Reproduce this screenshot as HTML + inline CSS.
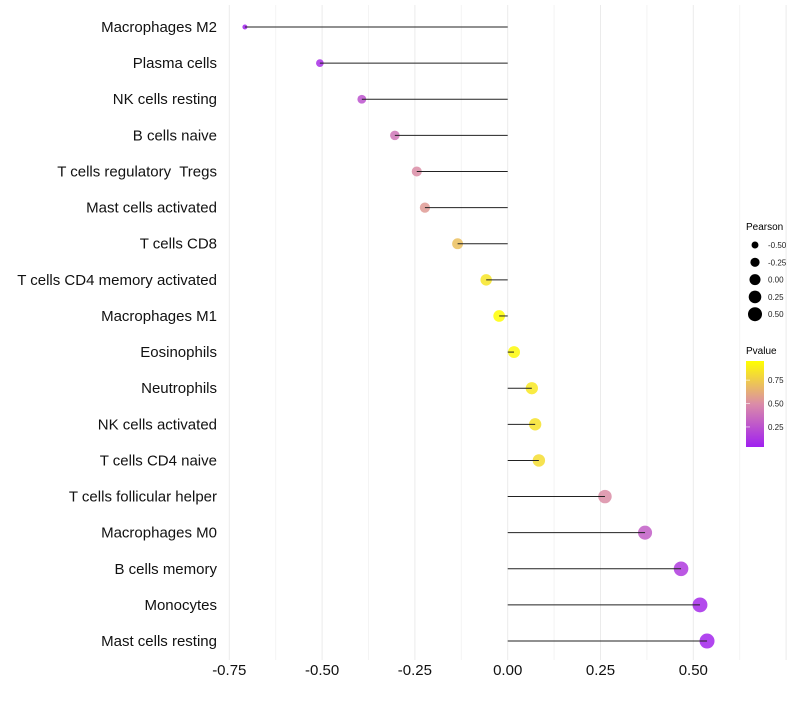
<!DOCTYPE html>
<html><head><meta charset="utf-8"><style>
body{margin:0;background:#fff;font-family:"Liberation Sans",sans-serif}
svg text{font-family:"Liberation Sans",sans-serif;white-space:pre}
</style></head><body>
<svg id="chart" width="800" height="700" xmlns="http://www.w3.org/2000/svg">
<g id="grid"></g>
<g id="dots"></g>
<g id="stems"></g>
<g id="ylabels"></g>
<g id="xlabels"></g>
<g>
<text x="746" y="230" font-size="10">Pearson</text>
<g id="sizeleg"></g>
</g>
<g>
<defs><linearGradient id="pg" x1="0" y1="1" x2="0" y2="0">
<stop offset="0" stop-color="#A020F0"/><stop offset="0.5" stop-color="#DB8CA8"/><stop offset="1" stop-color="#FFFF00"/></linearGradient></defs>
<text x="746" y="354" font-size="10">Pvalue</text>
<rect x="746" y="361" width="18" height="86" fill="url(#pg)"/>
<g id="colleg"></g>
</g>
</svg>
<script>
const categories=["Macrophages M2","Plasma cells","NK cells resting","B cells naive","T cells regulatory  Tregs","Mast cells activated","T cells CD8","T cells CD4 memory activated","Macrophages M1","Eosinophils","Neutrophils","NK cells activated","T cells CD4 naive","T cells follicular helper","Macrophages M0","B cells memory","Monocytes","Mast cells resting"];
const pearson=[-0.708,-0.506,-0.393,-0.304,-0.245,-0.223,-0.135,-0.058,-0.023,0.017,0.065,0.074,0.084,0.262,0.37,0.467,0.518,0.537];
const pvalues=[0.04,0.1,0.25,0.4,0.5,0.55,0.7,0.85,0.95,0.93,0.86,0.84,0.82,0.5,0.3,0.15,0.08,0.06];
const xTicks=[-0.75,-0.5,-0.25,0,0.25,0.5];
const xTickLabels=["-0.75","-0.50","-0.25","0.00","0.25","0.50"];
const sizeLegend=[-0.5,-0.25,0,0.25,0.5];
const sizeLegendLabels=["-0.50","-0.25","0.00","0.25","0.50"];
const colLegend=[0.25,0.5,0.75];
const colLegendLabels=["0.25","0.50","0.75"];
const NS="http://www.w3.org/2000/svg";
const x=v=>507.7+v*371.2;
const y=i=>27+i*36.12;
const r=v=>Math.sqrt(Math.max(1.5,30.5+37*v))+0.4;
const pMin=0.036,pMax=0.954;
function hex(c){return[parseInt(c.slice(1,3),16),parseInt(c.slice(3,5),16),parseInt(c.slice(5,7),16)]}
const stops=[hex("#A020F0"),hex("#DB8CA8"),hex("#FFFF00")];
function col(p){let t=Math.min(1,Math.max(0,(p-pMin)/(pMax-pMin)));let a,b,u;if(t<0.5){a=stops[0];b=stops[1];u=t/0.5}else{a=stops[1];b=stops[2];u=(t-0.5)/0.5}
return "rgb("+a.map((v,k)=>Math.round(v+(b[k]-v)*u)).join(",")+")"}
function mk(tag,at,parent){const e=document.createElementNS(NS,tag);for(const k in at)e.setAttribute(k,at[k]);parent.appendChild(e);return e}
const grid=document.getElementById("grid");
for(let v=-0.75;v<=0.76;v+=0.125){const gl=mk("line",{x1:x(v),x2:x(v),y1:5,y2:660,stroke:Math.abs(v/0.25-Math.round(v/0.25))<0.01?"#ebebeb":"#f4f4f4","stroke-width":1},grid);

}
const stems=document.getElementById("stems"),dots=document.getElementById("dots"),yl=document.getElementById("ylabels"),xl=document.getElementById("xlabels");
categories.forEach((c,i)=>{
const s=mk("line",{x1:x(0),x2:x(pearson[i]),y1:y(i),y2:y(i),stroke:"#222","stroke-width":1},stems);


const d=mk("circle",{cx:x(pearson[i]),cy:y(i),r:r(pearson[i]),fill:col(pvalues[i]),"fill-opacity":0.85},dots);


const t=mk("text",{x:217,y:y(i)+5,"font-size":15,"text-anchor":"end",fill:"#111"},yl);t.textContent=c;


});
xTicks.forEach((v,i)=>{const t=mk("text",{x:x(v),y:675,"font-size":15,"text-anchor":"middle",fill:"#111"},xl);t.textContent=xTickLabels[i];

});
const sl=document.getElementById("sizeleg");
sizeLegend.forEach((v,i)=>{const cy=245+i*17.3;const c=mk("circle",{cx:755,cy:cy,r:r(v)-0.4,fill:"#000"},sl);


const t=mk("text",{x:768,y:cy+3,"font-size":8,fill:"#222"},sl);t.textContent=sizeLegendLabels[i];

});
const cl=document.getElementById("colleg");
colLegend.forEach((v,i)=>{const cy=361+(pMax-v)/(pMax-pMin)*86;const l=mk("line",{x1:746,x2:750,y1:cy,y2:cy,stroke:"#fff","stroke-width":0.6},cl);


const t=mk("text",{x:768,y:cy+3,"font-size":8,fill:"#222"},cl);t.textContent=colLegendLabels[i];

});
</script>
</body></html>
